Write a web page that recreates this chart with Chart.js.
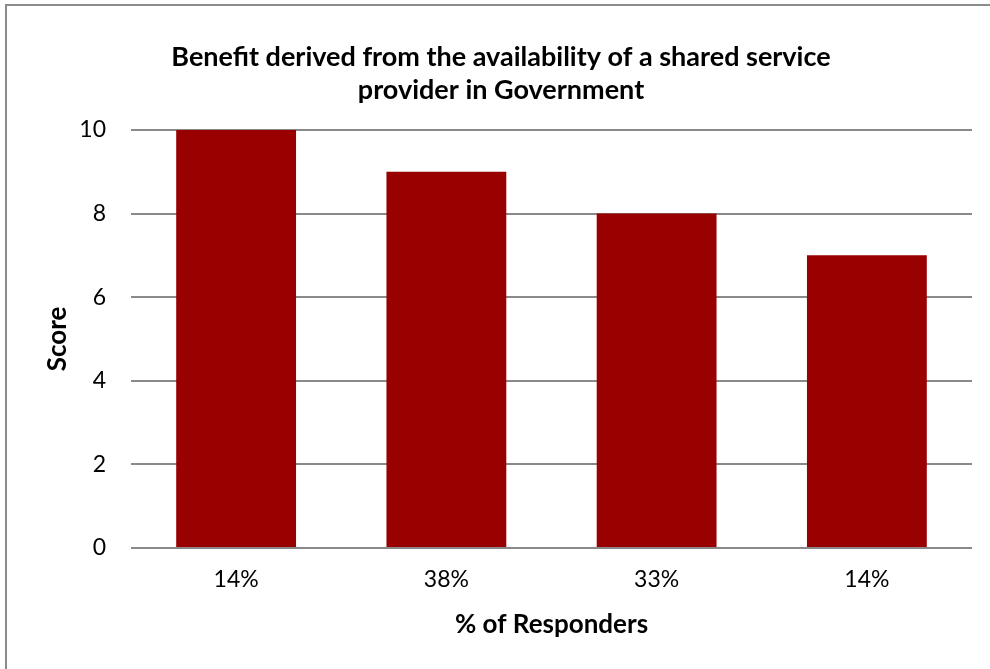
<!DOCTYPE html>
<html>
<head>
<meta charset="utf-8">
<title>Shared service provider benefit</title>
<script src="https://cdn.jsdelivr.net/npm/chart.js@4.4.1/dist/chart.umd.min.js"></script>
<style>
  html, body { margin: 0; padding: 0; background: #fff; }
  #wrap { position: relative; width: 990px; height: 669px; overflow: hidden; }
  #frame {
    position: absolute; left: 5px; top: 4px; right: -10px; bottom: -10px;
    border-top: 2px solid #8c8c8c; border-left: 2px solid #8c8c8c;
    pointer-events: none;
  }
  canvas { position: absolute; left: 0; top: 0; }
</style>
</head>
<body>
<div id="wrap">
  <canvas id="benefitChart" width="990" height="669"></canvas>
  <div id="frame"></div>
</div>
<script>
(function() {
  'use strict';

  // Share of responders for each score
  const categories = ['14%', '38%', '33%', '14%'];
  const scores = [10, 9, 8, 7];
  const yTicks = [0, 2, 4, 6, 8, 10];

  const titleLines = ['Benefit derived from the availability of a shared service', 'provider in Government'];
  const barColor = '#990000';
  const gridColor = '#898989';
  const fontFamily = 'Lato, "Open Sans", sans-serif';

  Chart.defaults.font.family = fontFamily;
  Chart.defaults.color = '#000';

  const canvas = document.getElementById('benefitChart');

  new Chart(canvas, {
    type: 'bar',
    data: {
      labels: categories,
      datasets: [{
        label: 'Score',
        data: scores,
        backgroundColor: barColor,
        borderWidth: 0,
        categoryPercentage: 1,
        barPercentage: 0.57
      }]
    },
    options: {
      responsive: false,
      animation: false,
      layout: {
        padding: { left: 30, right: 18, top: 0, bottom: 0 }
      },
      plugins: {
        legend: { display: false },
        tooltip: { enabled: false },
        title: {
          display: true,
          text: titleLines,
          color: '#000',
          font: { size: 27, weight: 'bold', lineHeight: 1.22 },
          padding: { top: 40.5, bottom: 23.5 }
        }
      },
      scales: {
        x: {
          grid: { display: false, drawTicks: false },
          border: { display: false },
          ticks: {
            color: '#000',
            font: { size: 23 },
            padding: 18
          },
          title: {
            display: true,
            text: '% of Responders',
            color: '#000',
            font: { size: 26, weight: 'bold' },
            padding: { top: 0, bottom: 29 }
          },
          afterFit: function(scale) {
            scale.height = 121;
          }
        },
        y: {
          min: 0,
          max: 10,
          afterBuildTicks: function(scale) {
            scale.ticks = yTicks.map(v => ({ value: v }));
          },
          grid: {
            color: gridColor,
            lineWidth: 2,
            drawTicks: false
          },
          border: { display: false },
          ticks: {
            color: '#000',
            font: { size: 23 },
            padding: 25
          },
          title: {
            display: true,
            text: 'Score',
            color: '#000',
            font: { size: 26, weight: 'bold' },
            padding: { top: 12.4, bottom: 0 }
          },
          afterFit: function(scale) {
            scale.width = 101;
          }
        }
      }
    }
  });
})();
</script>
</body>
</html>
